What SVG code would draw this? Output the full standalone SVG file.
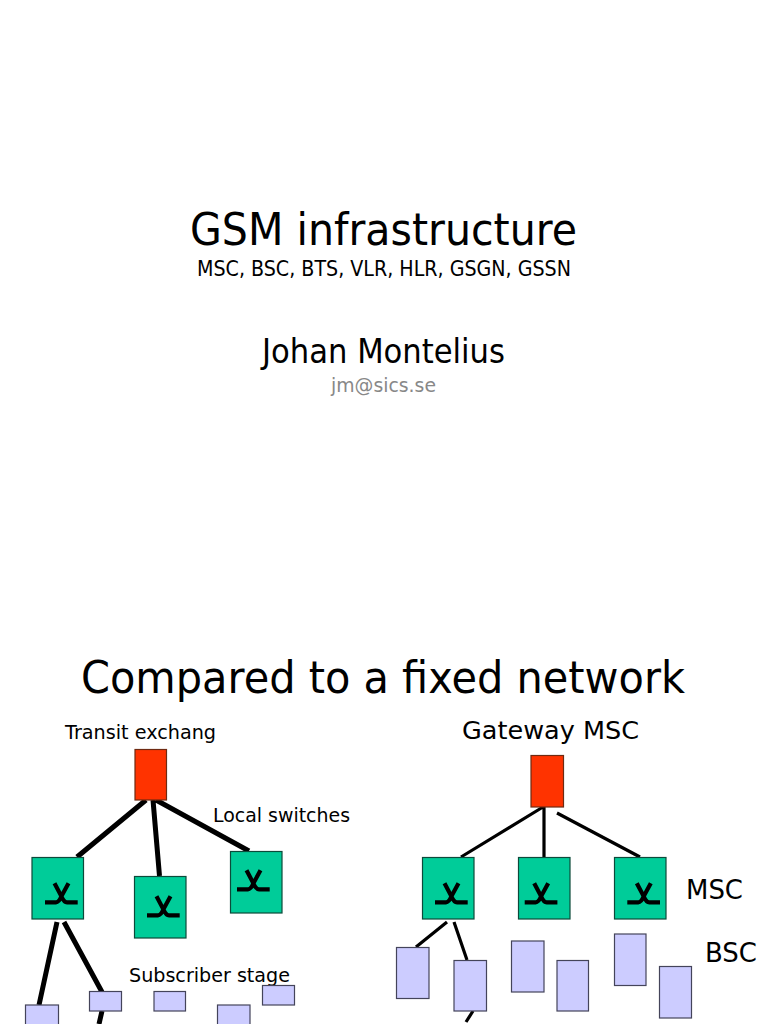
<svg xmlns="http://www.w3.org/2000/svg" xmlns:xlink="http://www.w3.org/1999/xlink" width="768" height="1024" viewBox="0 0 768 1024">
<style>
text{font-family:"DejaVu Sans",sans-serif;fill:#000}
.red{fill:#ff3300;stroke:#6e2a12;stroke-width:1.2}
.green{fill:#00cc99;stroke:#0c4a3a;stroke-width:1.2}
.blue{fill:#ccccff;stroke:#44445a;stroke-width:1.2}
.thick{stroke:#000;stroke-width:5;fill:none}
.thin{stroke:#000;stroke-width:3.2;fill:none}
.sw{stroke:#000;stroke-width:4.200;fill:none}
</style>
<defs>
<rect id="box" class="green" width="51.500" height="61.500"/>
<path id="sw" class="sw" d="M0 0H11Q14 0 16.400 -6L23.500 -19M32.700 0H22Q19 0 16.400 -6L9.500 -19"/>
</defs>
<rect width="768" height="1024" fill="#fff"/>
<g id="titles">
<text x="383.500" y="245" font-size="45" text-anchor="middle" textLength="387" lengthAdjust="spacingAndGlyphs">GSM infrastructure</text>
<text x="384" y="276" font-size="22" text-anchor="middle" textLength="374" lengthAdjust="spacingAndGlyphs">MSC, BSC, BTS, VLR, HLR, GSGN, GSSN</text>
<text x="383.500" y="363" font-size="33" text-anchor="middle" textLength="243" lengthAdjust="spacingAndGlyphs">Johan Montelius</text>
<text x="383.500" y="392" font-size="20" text-anchor="middle" textLength="105" lengthAdjust="spacingAndGlyphs" style="fill:#888">jm@sics.se</text>
<text x="383" y="693" font-size="45" text-anchor="middle" textLength="604" lengthAdjust="spacingAndGlyphs">Compared to a fixed network</text>
</g>
<g id="connectors">
<path class="thick" d="M146 800L77 857M153 800L159.500 876M156 800L249 851M57 922L39 1005M64 922L102 992M102 1011L99 1024"/>
<path class="thin" d="M543 807L461 857M544 807V857M557 813L640 857M447 922L416 947M454 922L467 960M473 1011L466 1022"/>
</g>
<g id="labels">
<text x="65" y="739" font-size="19.500" textLength="151" lengthAdjust="spacingAndGlyphs">Transit exchang</text>
<text x="213" y="822" font-size="19.500" textLength="137" lengthAdjust="spacingAndGlyphs">Local switches</text>
<text x="129" y="982" font-size="19.500" textLength="161" lengthAdjust="spacingAndGlyphs">Subscriber stage</text>
<text x="462" y="739" font-size="25.500" textLength="177" lengthAdjust="spacingAndGlyphs">Gateway MSC</text>
<text x="686" y="899" font-size="26" textLength="57" lengthAdjust="spacingAndGlyphs">MSC</text>
<text x="705" y="962" font-size="26" textLength="52" lengthAdjust="spacingAndGlyphs">BSC</text>
</g>
<g id="transit"><rect class="red" x="135" y="749.500" width="31.500" height="50.500"/></g>
<g id="local1"><use xlink:href="#box" href="#box" x="32" y="857.500"/><use xlink:href="#sw" href="#sw" x="45" y="902.300"/></g>
<g id="local2"><use xlink:href="#box" href="#box" x="134.500" y="876.500"/><use xlink:href="#sw" href="#sw" x="147" y="915.300"/></g>
<g id="local3"><use xlink:href="#box" href="#box" x="230.500" y="851.500"/><use xlink:href="#sw" href="#sw" x="237" y="889.300"/></g>
<g id="sub1"><rect class="blue" x="25.500" y="1005" width="33" height="25"/></g>
<g id="sub2"><rect class="blue" x="89.500" y="991.500" width="32" height="19.500"/></g>
<g id="sub3"><rect class="blue" x="154" y="991.500" width="31.500" height="19.500"/></g>
<g id="sub4"><rect class="blue" x="217.500" y="1005" width="32.500" height="25"/></g>
<g id="sub5"><rect class="blue" x="262.500" y="985.500" width="32" height="19.500"/></g>
<g id="gateway"><rect class="red" x="531" y="755.500" width="32.500" height="51.500"/></g>
<g id="msc1"><use xlink:href="#box" href="#box" x="422.500" y="857.500"/><use xlink:href="#sw" href="#sw" x="435" y="902.300"/></g>
<g id="msc2"><use xlink:href="#box" href="#box" x="518.500" y="857.500"/><use xlink:href="#sw" href="#sw" x="524.700" y="902.300"/></g>
<g id="msc3"><use xlink:href="#box" href="#box" x="614.500" y="857.500"/><use xlink:href="#sw" href="#sw" x="627.300" y="902.300"/></g>
<g id="bsc1"><rect class="blue" x="396.500" y="947.500" width="32.500" height="51"/></g>
<g id="bsc2"><rect class="blue" x="454" y="960.500" width="32.500" height="50.500"/></g>
<g id="bsc3"><rect class="blue" x="511.500" y="941" width="32.500" height="51"/></g>
<g id="bsc4"><rect class="blue" x="557" y="960.500" width="31.500" height="50.500"/></g>
<g id="bsc5"><rect class="blue" x="614.500" y="934" width="31.500" height="51.500"/></g>
<g id="bsc6"><rect class="blue" x="659.500" y="966.500" width="32" height="51.500"/></g>
</svg>
